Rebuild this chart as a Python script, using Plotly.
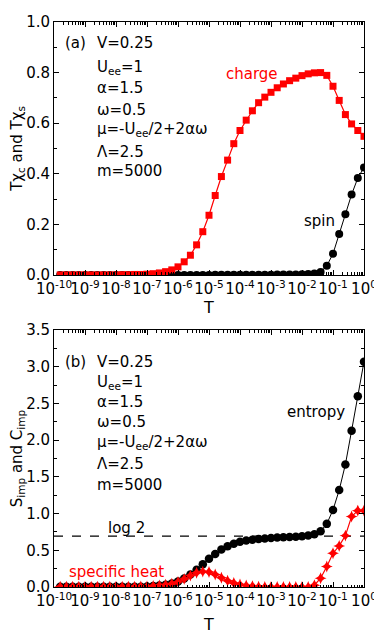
import plotly.graph_objects as go

# temperature grid, log10(T)
log_T = [-9.8, -9.6, -9.4, -9.2, -9.0, -8.8, -8.6, -8.4, -8.2, -8.0,
         -7.8, -7.6, -7.4, -7.2, -7.0, -6.8, -6.6, -6.4, -6.2, -6.0,
         -5.8, -5.6, -5.4, -5.2, -5.0, -4.8, -4.6, -4.4, -4.2, -4.0,
         -3.8, -3.6, -3.4, -3.2, -3.0, -2.8, -2.6, -2.4, -2.2, -2.0,
         -1.8, -1.6, -1.4, -1.2, -1.0, -0.8, -0.6, -0.4, -0.2, 0.0]
T = [10 ** e for e in log_T]

# panel (a)
charge = [0.000, 0.000, 0.000, 0.000, 0.000, 0.000, 0.000, 0.000, 0.000, 0.000,
          0.001, 0.001, 0.002, 0.002, 0.003, 0.005, 0.008, 0.013, 0.020, 0.032,
          0.052, 0.078, 0.119, 0.171, 0.236, 0.314, 0.389, 0.454, 0.519, 0.571,
          0.612, 0.649, 0.681, 0.703, 0.722, 0.740, 0.755, 0.768, 0.778, 0.788,
          0.795, 0.799, 0.800, 0.789, 0.746, 0.690, 0.634, 0.597, 0.571, 0.548]
spin = [0.000, 0.000, 0.000, 0.000, 0.000, 0.000, 0.000, 0.000, 0.000, 0.000,
        0.000, 0.000, 0.000, 0.000, 0.000, 0.000, 0.000, 0.000, 0.000, 0.000,
        0.000, 0.000, 0.000, 0.000, 0.000, 0.001, 0.001, 0.001, 0.001, 0.001,
        0.001, 0.001, 0.001, 0.001, 0.001, 0.002, 0.002, 0.002, 0.002, 0.003,
        0.004, 0.006, 0.012, 0.036, 0.084, 0.162, 0.240, 0.318, 0.383, 0.425]

# panel (b)
entropy = [0.002, 0.002, 0.002, 0.002, 0.002, 0.002, 0.002, 0.002, 0.002, 0.002,
           0.002, 0.002, 0.002, 0.004, 0.007, 0.012, 0.020, 0.030, 0.047, 0.075,
           0.115, 0.170, 0.235, 0.310, 0.385, 0.450, 0.510, 0.555, 0.590, 0.615,
           0.632, 0.645, 0.655, 0.662, 0.668, 0.673, 0.677, 0.681, 0.686, 0.692,
           0.700, 0.720, 0.760, 0.860, 1.050, 1.320, 1.670, 2.130, 2.600, 3.070]
spec_heat = [0.003, 0.003, 0.003, 0.003, 0.003, 0.003, 0.003, 0.003, 0.003, 0.003,
             0.003, 0.003, 0.003, 0.006, 0.009, 0.014, 0.020, 0.030, 0.045, 0.070,
             0.110, 0.155, 0.195, 0.210, 0.205, 0.170, 0.125, 0.085, 0.055, 0.035,
             0.020, 0.010, 0.005, 0.002, 0.002, 0.002, 0.002, 0.002, 0.002, 0.002,
             0.002, 0.025, 0.120, 0.280, 0.460, 0.560, 0.700, 0.960, 1.040, 1.040]
log2_level = 0.6931

tick_T = [1e-10, 1e-9, 1e-8, 1e-7, 1e-6, 1e-5, 1e-4, 1e-3, 1e-2, 1e-1, 1]
tick_T_text = ["10<sup>-10</sup>", "10<sup>-9</sup>", "10<sup>-8</sup>", "10<sup>-7</sup>",
               "10<sup>-6</sup>", "10<sup>-5</sup>", "10<sup>-4</sup>", "10<sup>-3</sup>",
               "10<sup>-2</sup>", "10<sup>-1</sup>", "10<sup>0</sup>"]

params = ["V=0.25", "U<sub>ee</sub>=1", "\u03b1=1.5", "\u03c9=0.5",
          "\u03bc=-U<sub>ee</sub>/2+2\u03b1\u03c9", "\u039b=2.5", "m=5000"]

RED = "#ff0000"
FONT = "DejaVu Sans, sans-serif"
FS = 15

fig = go.Figure()

fig.add_trace(go.Scatter(x=T, y=spin, mode="lines+markers", xaxis="x", yaxis="y",
                         line=dict(color="black", width=1),
                         marker=dict(symbol="circle", size=8, color="black")))
fig.add_trace(go.Scatter(x=T, y=charge, mode="lines+markers", xaxis="x", yaxis="y",
                         line=dict(color=RED, width=1.2),
                         marker=dict(symbol="square", size=7, color=RED)))

fig.add_trace(go.Scatter(x=[tick_T[0], tick_T[-1]], y=[log2_level, log2_level], mode="lines",
                         xaxis="x2", yaxis="y2",
                         line=dict(color="black", width=1.2, dash="dash")))
fig.add_trace(go.Scatter(x=T, y=entropy, mode="lines+markers", xaxis="x2", yaxis="y2",
                         line=dict(color="black", width=1),
                         marker=dict(symbol="circle", size=8.5, color="black")))
fig.add_trace(go.Scatter(x=T, y=spec_heat, mode="lines+markers", xaxis="x2", yaxis="y2",
                         line=dict(color=RED, width=1.2),
                         marker=dict(symbol="star-diamond", size=8.5, color=RED)))

xaxis_style = dict(type="log", range=[-10, 0], tickmode="array", tickvals=tick_T,
                   ticktext=tick_T_text, tickangle=0, showline=True, linecolor="black",
                   linewidth=1, mirror="ticks", ticks="inside", ticklen=5, tickcolor="black",
                   showgrid=False, zeroline=False,
                   minor=dict(ticks="inside", ticklen=2.5, tickcolor="black", dtick="D1"),
                   tickfont=dict(size=FS, color="black"))
yaxis_style = dict(showline=True, linecolor="black", linewidth=1, mirror="ticks",
                   ticks="inside", ticklen=5, tickcolor="black", showgrid=False,
                   zeroline=False, tickfont=dict(size=FS, color="black"))

# the page body adds an 8 px offset, so the figure is 8 px smaller and margins shifted
fig.update_layout(
    width=374, height=631,
    margin=dict(l=46, r=13, t=5, b=52),
    paper_bgcolor="white", plot_bgcolor="white",
    showlegend=False,
    font=dict(family=FONT, color="black"),
    xaxis=dict(xaxis_style, domain=[0, 1], anchor="y",
               title=dict(text="T", font=dict(size=16, color="black"), standoff=2)),
    yaxis=dict(yaxis_style, domain=[0.5523, 1], anchor="x", range=[0, 1.0], dtick=0.2,
               tickformat=".1f", minor=dict(ticks="inside", ticklen=3, tickcolor="black", dtick=0.1),
               title=dict(text="T\u03c7<sub>c</sub> and T\u03c7<sub>s</sub>",
                          font=dict(size=FS, color="black"), standoff=3)),
    xaxis2=dict(xaxis_style, domain=[0, 1], anchor="y2",
                title=dict(text="T", font=dict(size=16, color="black"), standoff=9)),
    yaxis2=dict(yaxis_style, domain=[0, 0.4547], anchor="x2", range=[0, 3.5], dtick=0.5,
                tickformat=".1f", minor=dict(ticks="inside", ticklen=3, tickcolor="black", dtick=0.25),
                title=dict(text="S<sub>imp</sub> and C<sub>imp</sub>",
                           font=dict(size=FS, color="black"), standoff=3)),
)

# parameter blocks
top_y = [0.918, 0.819, 0.739, 0.654, 0.576, 0.486, 0.409]
bot_y = [0.874, 0.797, 0.720, 0.644, 0.563, 0.479, 0.398]
for txt, ya, yb in zip(params, top_y, bot_y):
    fig.add_annotation(text=txt, xref="x domain", yref="y domain", x=0.133, y=ya,
                       xanchor="left", yanchor="middle", showarrow=False,
                       font=dict(size=FS, color="black"))
    fig.add_annotation(text=txt, xref="x2 domain", yref="y2 domain", x=0.133, y=yb,
                       xanchor="left", yanchor="middle", showarrow=False,
                       font=dict(size=FS, color="black"))

labels = [
    ("(a)", "x domain", "y domain", 0.028, 0.918, "left", "black"),
    ("charge", "x domain", "y domain", 0.64, 0.794, "center", RED),
    ("spin", "x domain", "y domain", 0.857, 0.214, "center", "black"),
    ("(b)", "x2 domain", "y2 domain", 0.028, 0.874, "left", "black"),
    ("entropy", "x2 domain", "y2 domain", 0.844, 0.682, "center", "black"),
    ("log 2", "x2 domain", "y2 domain", 0.235, 0.23, "center", "black"),
    ("specific heat", "x2 domain", "y2 domain", 0.203, 0.057, "center", RED),
]
for txt, xr, yr, xx, yy, anc, col in labels:
    fig.add_annotation(text=txt, xref=xr, yref=yr, x=xx, y=yy, xanchor=anc,
                       yanchor="middle", showarrow=False, font=dict(size=FS, color=col))

fig.write_html("out.html")
